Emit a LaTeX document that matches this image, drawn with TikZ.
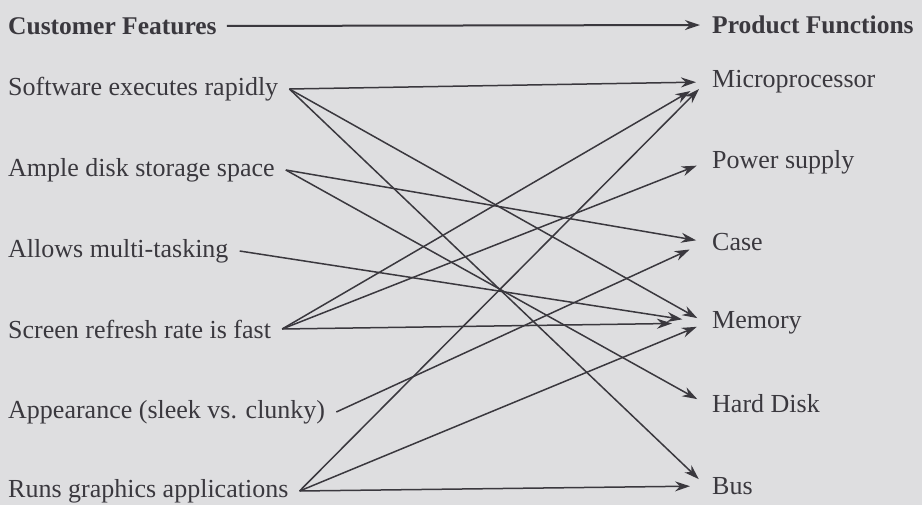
\documentclass[tikz,border=0pt]{standalone}
\usepackage{fontspec}
\setmainfont{Liberation Serif}
\usetikzlibrary{arrows.meta}
\definecolor{bgc}{RGB}{222,222,224}
\definecolor{ink}{RGB}{58,56,62}
\begin{document}
\begin{tikzpicture}[x=1pt,y=-1pt,
  lab/.style={text=ink,font=\fontsize{26}{30}\selectfont,inner sep=6pt},
  llab/.style={lab,anchor=west,inner xsep=11pt},
  rlab/.style={lab,anchor=west},
  head/.style={lab,font=\fontsize{25.5}{30}\selectfont\bfseries},
  conn/.style={draw=ink,line width=1.5pt,-{Stealth[length=15pt,width=10pt]},shorten >=10pt}]
\fill[bgc] (0,0) rectangle (922,505);
\useasboundingbox (0,0) rectangle (922,505);
% header
\node[head,anchor=west] (cf) at (2,26) {Customer Features};
\node[head,anchor=west] (pf) at (706,25) {Product Functions};
\draw[conn,line width=2pt,shorten >=6pt,shorten <=4pt] (cf.east) -- (pf.west);
% left
\node[llab] (sw) at (-3,89) {Software executes rapidly};
\node[llab] (ad) at (-3,170) {Ample disk storage space};
\node[llab] (mt) at (-3,251) {Allows multi-tasking};
\node[llab] (sr) at (-3,329) {Screen refresh rate is fast};
\node[llab] (ap) at (-3,412) {Appearance (sleek vs. clunky)};
\node[llab] (rg) at (-3,491) {Runs graphics applications};
% right
\node[rlab] (mp) at (706,82) {Microprocessor};
\node[rlab] (ps) at (706,162) {Power supply};
\node[rlab] (cs) at (706,242) {Case};
\node[rlab] (me) at (706,323) {Memory};
\node[rlab] (hd) at (706,404) {Hard Disk};
\node[rlab] (bu) at (706,486) {Bus};
% connectors
\draw[conn] (sw.east) -- (mp.west);
\draw[conn] (sw.east) -- (me.west);
\draw[conn] (sw.east) -- (bu.west);
\draw[conn] (ad.east) -- (cs.west);
\draw[conn] (ad.east) -- (hd.west);
\draw[conn,shorten >=24pt] (mt.east) -- (me.west);
\draw[conn,shorten >=18pt] (sr.east) -- (mp.west);
\draw[conn] (sr.east) -- (ps.west);
\draw[conn,shorten >=34pt] (sr.east) -- (me.west);
\draw[conn,shorten >=18pt] (ap.east) -- (cs.west);
\draw[conn] (rg.east) -- (mp.west);
\draw[conn] (rg.east) -- (me.west);
\draw[conn,shorten >=16pt] (rg.east) -- (bu.west);
\end{tikzpicture}
\end{document}
